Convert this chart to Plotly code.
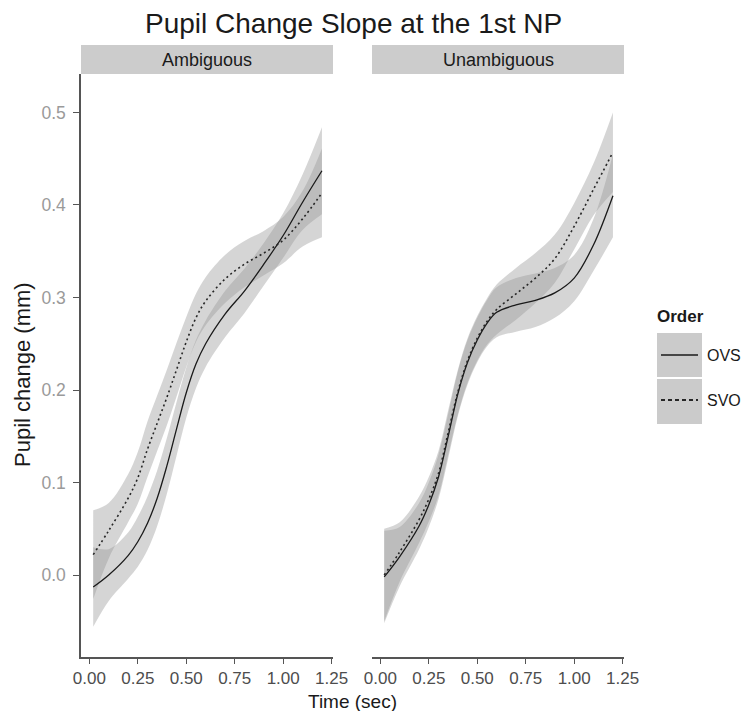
import plotly.graph_objects as go

# ---------------- data ----------------
time_sec = [0.02, 0.1, 0.2, 0.25, 0.3, 0.35, 0.4, 0.45, 0.5, 0.55, 0.6, 0.7, 0.8, 0.9, 1.0, 1.1, 1.2]
panels = ["Ambiguous", "Unambiguous"]
orders = ["OVS", "SVO"]

amb_ovs = [-0.013, 0.000, 0.021, 0.036, 0.056, 0.083, 0.118, 0.158, 0.197, 0.228, 0.250, 0.282, 0.307, 0.336, 0.367, 0.403, 0.437]
amb_ovs_se = [0.043, 0.028, 0.025, 0.027, 0.029, 0.030, 0.030, 0.029, 0.027, 0.026, 0.025, 0.025, 0.024, 0.023, 0.024, 0.030, 0.047]
amb_svo = [0.022, 0.048, 0.083, 0.105, 0.136, 0.164, 0.192, 0.222, 0.252, 0.278, 0.296, 0.320, 0.336, 0.348, 0.362, 0.385, 0.413]
amb_svo_se = [0.048, 0.030, 0.026, 0.028, 0.030, 0.030, 0.030, 0.029, 0.027, 0.026, 0.026, 0.026, 0.025, 0.024, 0.025, 0.030, 0.048]

una_ovs = [-0.002, 0.020, 0.053, 0.076, 0.106, 0.150, 0.196, 0.230, 0.254, 0.272, 0.284, 0.292, 0.297, 0.305, 0.321, 0.357, 0.410]
una_ovs_se = [0.050, 0.032, 0.025, 0.024, 0.024, 0.024, 0.024, 0.024, 0.024, 0.025, 0.027, 0.029, 0.029, 0.027, 0.025, 0.028, 0.045]
una_svo = [0.000, 0.025, 0.060, 0.082, 0.110, 0.154, 0.198, 0.232, 0.256, 0.274, 0.287, 0.304, 0.321, 0.342, 0.377, 0.417, 0.457]
una_svo_se = [0.050, 0.032, 0.025, 0.024, 0.024, 0.024, 0.024, 0.024, 0.024, 0.025, 0.027, 0.028, 0.027, 0.026, 0.025, 0.028, 0.043]

x_ticks = [0, 0.25, 0.5, 0.75, 1.0, 1.25]
x_ticklabels = ["0.00", "0.25", "0.50", "0.75", "1.00", "1.25"]
y_ticks = [0, 0.1, 0.2, 0.3, 0.4, 0.5]
y_ticklabels = ["0.0", "0.1", "0.2", "0.3", "0.4", "0.5"]

title = "Pupil Change Slope at the 1st NP"
x_title = "Time (sec)"
y_title = "Pupil change (mm)"
legend_title = "Order"

# ---------------- figure ----------------
FONT = "Liberation Sans, Arial, Helvetica, sans-serif"
OFF = 8                      # page body margin of the browser
W, H = 750 - 2 * OFF, 719 - 2 * OFF
def px(x):
    return (x - OFF) / W
def py(y):
    return 1 - (y - OFF) / H

series = {
    ("Ambiguous", "OVS"): (amb_ovs, amb_ovs_se),
    ("Ambiguous", "SVO"): (amb_svo, amb_svo_se),
    ("Unambiguous", "OVS"): (una_ovs, una_ovs_se),
    ("Unambiguous", "SVO"): (una_svo, una_svo_se),
}
line_style = {"OVS": dict(color="#1a1a1a", width=1.3, dash="solid"),
              "SVO": dict(color="#262626", width=1.6, dash="2px,3px")}
ribbon_fill = "rgba(150,150,150,0.40)"

fig = go.Figure()
for pi, panel in enumerate(panels):
    xa = "x" if pi == 0 else "x2"
    ya = "y" if pi == 0 else "y2"
    for order in orders:
        vals, se = series[(panel, order)]
        lo = [v - s for v, s in zip(vals, se)]
        hi = [v + s for v, s in zip(vals, se)]
        fig.add_trace(go.Scatter(x=time_sec, y=lo, mode="lines", line=dict(width=0, shape="spline"),
                                 xaxis=xa, yaxis=ya, showlegend=False, hoverinfo="skip"))
        fig.add_trace(go.Scatter(x=time_sec, y=hi, mode="lines", line=dict(width=0, shape="spline"),
                                 fill="tonexty", fillcolor=ribbon_fill,
                                 xaxis=xa, yaxis=ya, showlegend=False, hoverinfo="skip"))
    for order in orders:
        vals, se = series[(panel, order)]
        st = line_style[order]
        fig.add_trace(go.Scatter(x=time_sec, y=vals, mode="lines", name=order,
                                 line=dict(color=st["color"], width=st["width"], dash=st["dash"], shape="spline"),
                                 xaxis=xa, yaxis=ya, showlegend=False))

x_dom_l = [px(81), px(333)]
x_dom_r = [px(372), px(624)]
y_dom = [py(657), py(74)]
x_range = [-0.043, 1.257]
y_range = [-0.0886, 0.5416]

xaxis_common = dict(range=x_range, tickmode="array", tickvals=x_ticks, ticktext=x_ticklabels,
                    showline=True, linecolor="#555555", linewidth=1.5, ticks="outside", ticklen=5,
                    tickcolor="#555555", tickwidth=1.2, showgrid=False, zeroline=False,
                    automargin=False,
                    tickfont=dict(family=FONT, size=17, color="#4d4d4d"), fixedrange=True)
fig.update_layout(
    width=W, height=H,
    margin=dict(l=0, r=0, t=0, b=0, pad=0),
    paper_bgcolor="white", plot_bgcolor="white",
    showlegend=False,
    font=dict(family=FONT, color="#1a1a1a"),
    xaxis=dict(domain=x_dom_l, anchor="y", **xaxis_common),
    xaxis2=dict(domain=x_dom_r, anchor="y2", **xaxis_common),
    yaxis=dict(domain=y_dom, anchor="x", range=y_range, tickmode="array", tickvals=y_ticks,
               ticktext=y_ticklabels, showline=True, linecolor="#555555", linewidth=1.5,
               ticks="outside", ticklen=6, tickcolor="#555555", tickwidth=1.2,
               showgrid=False, zeroline=False, automargin=False, ticklabelstandoff=4,
               tickfont=dict(family=FONT, size=17.5, color="#9a9a9a")),
    yaxis2=dict(domain=y_dom, anchor="x2", range=y_range, showline=False, showticklabels=False,
                ticks="", showgrid=False, zeroline=False, automargin=False),
)

shapes = []
annotations = []
for dom, label in zip([x_dom_l, x_dom_r], panels):
    shapes.append(dict(type="rect", xref="paper", yref="paper", x0=dom[0], x1=dom[1],
                       y0=py(74), y1=py(45), fillcolor="#cccccc", line=dict(width=0), layer="below"))
    annotations.append(dict(text=label, xref="paper", yref="paper", x=(dom[0] + dom[1]) / 2,
                            y=py(59.5), showarrow=False, xanchor="center", yanchor="middle",
                            font=dict(family=FONT, size=18, color="#1a1a1a")))
annotations.append(dict(text=title, xref="paper", yref="paper", x=px(353), y=py(23), showarrow=False,
                        xanchor="center", yanchor="middle", font=dict(family=FONT, size=28, color="#1a1a1a")))
annotations.append(dict(text=x_title, xref="paper", yref="paper", x=px(352), y=py(701), showarrow=False,
                        xanchor="center", yanchor="middle", font=dict(family=FONT, size=19, color="#1a1a1a")))
annotations.append(dict(text=y_title, xref="paper", yref="paper", x=px(22), y=py(375), showarrow=False,
                        textangle=-90, xanchor="center", yanchor="middle",
                        font=dict(family=FONT, size=22, color="#1a1a1a")))
annotations.append(dict(text="<b>" + legend_title + "</b>", xref="paper", yref="paper", x=px(655), y=py(316),
                        showarrow=False, xanchor="left", yanchor="middle",
                        font=dict(family=FONT, size=17, color="#1a1a1a")))
key_rows = [(333, 377, 355), (379, 424, 400)]
for order, (y0, y1, yc) in zip(orders, key_rows):
    shapes.append(dict(type="rect", xref="paper", yref="paper", x0=px(657), x1=px(702),
                       y0=py(y1), y1=py(y0), fillcolor="#cbcbcb", line=dict(width=0)))
    st = line_style[order]
    shapes.append(dict(type="line", xref="paper", yref="paper", x0=px(661), x1=px(698),
                       y0=py(yc), y1=py(yc),
                       line=dict(color=st["color"], width=st["width"] + 0.3,
                                 dash="solid" if order == "OVS" else "4px,3px")))
    annotations.append(dict(text=order, xref="paper", yref="paper", x=px(705), y=py(yc), showarrow=False,
                            xanchor="left", yanchor="middle", font=dict(family=FONT, size=16, color="#1a1a1a")))

fig.update_layout(shapes=shapes, annotations=annotations)
fig.write_html("out.html")
